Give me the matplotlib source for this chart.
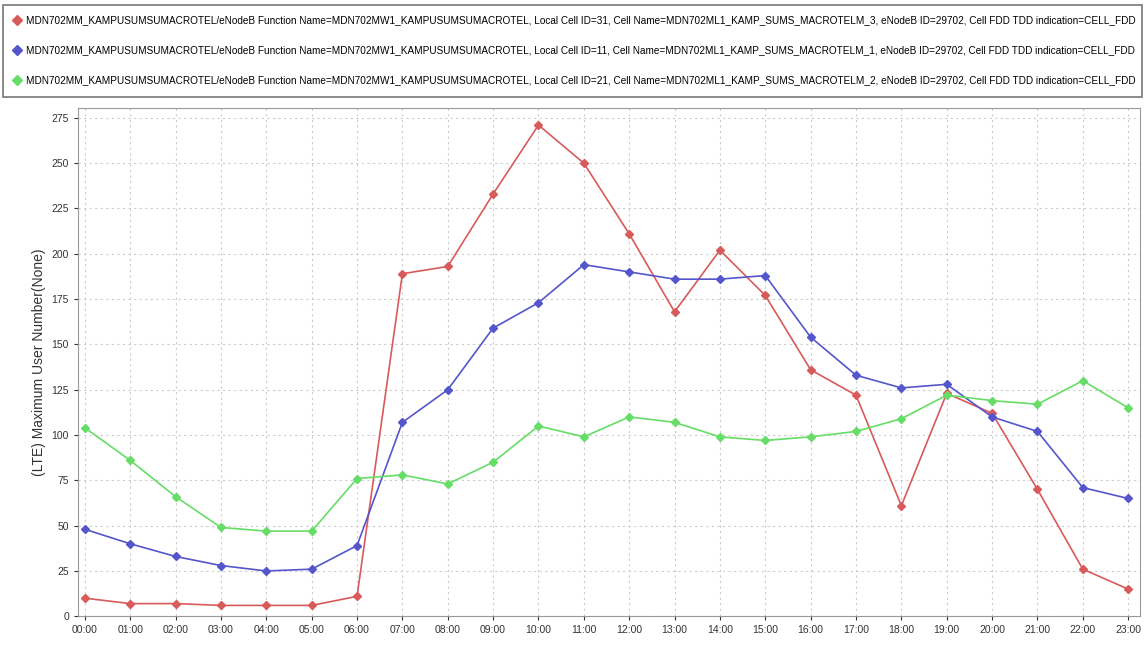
import matplotlib.pyplot as plt

hours = ['00:00', '01:00', '02:00', '03:00', '04:00', '05:00', '06:00', '07:00',
         '08:00', '09:00', '10:00', '11:00', '12:00', '13:00', '14:00', '15:00',
         '16:00', '17:00', '18:00', '19:00', '20:00', '21:00', '22:00', '23:00']

cell3 = [10, 7, 7, 6, 6, 6, 11, 189, 193, 233, 271, 250, 211, 168, 202, 177,
         136, 122, 61, 123, 112, 70, 26, 15]
cell1 = [48, 40, 33, 28, 25, 26, 39, 107, 125, 159, 173, 194, 190, 186, 186, 188,
         154, 133, 126, 128, 110, 102, 71, 65]
cell2 = [104, 86, 66, 49, 47, 47, 76, 78, 73, 85, 105, 99, 110, 107, 99, 97,
         99, 102, 109, 122, 119, 117, 130, 115]

labels = [
    'MDN702MM_KAMPUSUMSUMACROTEL/eNodeB Function Name=MDN702MW1_KAMPUSUMSUMACROTEL, '
    'Local Cell ID=31, Cell Name=MDN702ML1_KAMP_SUMS_MACROTELM_3, eNodeB ID=29702, '
    'Cell FDD TDD indication=CELL_FDD',
    'MDN702MM_KAMPUSUMSUMACROTEL/eNodeB Function Name=MDN702MW1_KAMPUSUMSUMACROTEL, '
    'Local Cell ID=11, Cell Name=MDN702ML1_KAMP_SUMS_MACROTELM_1, eNodeB ID=29702, '
    'Cell FDD TDD indication=CELL_FDD',
    'MDN702MM_KAMPUSUMSUMACROTEL/eNodeB Function Name=MDN702MW1_KAMPUSUMSUMACROTEL, '
    'Local Cell ID=21, Cell Name=MDN702ML1_KAMP_SUMS_MACROTELM_2, eNodeB ID=29702, '
    'Cell FDD TDD indication=CELL_FDD',
]

plt.rcParams['font.family'] = ['Liberation Sans', 'DejaVu Sans']

fig = plt.figure(figsize=(11.48, 6.46), dpi=100)
ax = fig.add_axes([0.068, 0.046, 0.925, 0.787])

x = range(len(hours))
series = [(cell3, '#d85a5a'), (cell1, '#5555cc'), (cell2, '#66dd66')]
handles = []
for (vals, color), lab in zip(series, labels):
    h, = ax.plot(x, vals, color=color, lw=1.2, marker='D', markersize=4, label=lab)
    handles.append(h)

ax.set_xlim(-0.15, 23.26)
ax.set_ylim(0, 280.5)
ax.set_yticks(range(0, 276, 25))
ax.set_xticks(list(x))
ax.set_xticklabels(hours)
ax.tick_params(labelsize=7.5, length=3, colors='#333333')
ax.grid(True, linestyle=(0, (2, 3)), color='#cccccc', lw=0.8)
for s in ax.spines.values():
    s.set_color('#999999')
ax.set_ylabel('(LTE) Maximum User Number(None)', fontsize=10, color='#333333')

leg = fig.legend(handles=handles, loc='upper left', fontsize=7.2, frameon=True,
                 fancybox=False, handlelength=0.6, handletextpad=0.6,
                 labelspacing=2.0, borderpad=1.1, borderaxespad=0.0,
                 mode='expand',
                 bbox_to_anchor=(0.003, 0.85, 0.992, 0.143),
                 bbox_transform=fig.transFigure)
leg.get_frame().set_edgecolor('#555555')
leg.get_frame().set_linewidth(1.2)
for h in leg.legend_handles:
    h.set_linestyle('')
    h.set_markersize(5)

fig.savefig('out.png')
